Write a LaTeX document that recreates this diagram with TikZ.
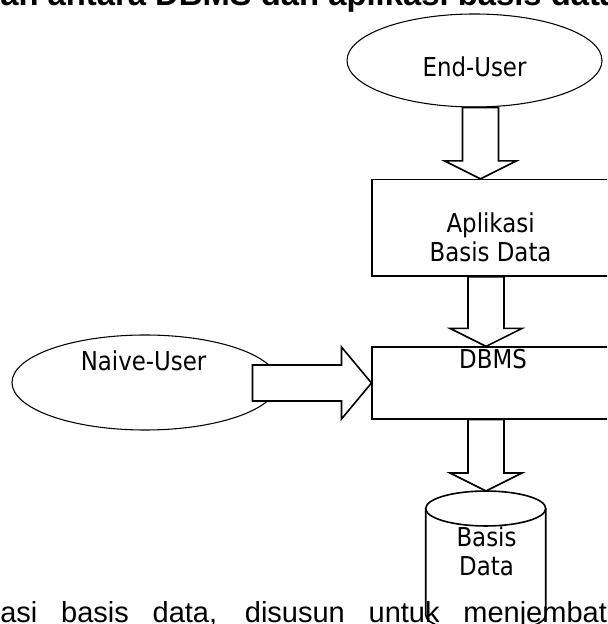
\documentclass[tikz,border=0pt]{standalone}
\usepackage{fontspec}
\setmainfont{DejaVu Sans}[FakeStretch=0.88]
\newfontfamily\arialfont{Liberation Sans}
\usetikzlibrary{shapes.geometric,calc}
\tikzset{
  user/.style       = {ellipse, draw, line width=0.8pt, inner sep=0pt},
  unit/.style       = {rectangle, draw, line width=1.2pt, inner sep=0pt},
  store/.style      = {draw, line width=1.2pt},
  blockarrow/.style = {draw, fill=white, line width=1.2pt, line join=miter},
  caption/.style    = {font=\fontsize{19.5}{21.75}\selectfont, align=center, inner sep=0pt},
  heading/.style    = {font=\arialfont\bfseries\fontsize{24.6}{28}\selectfont, anchor=base west, inner sep=0pt},
  bodytext/.style   = {font=\arialfont\fontsize{21.75}{26}\selectfont, anchor=base west, inner sep=0pt},
}
\newcommand{\arrowdown}[2]{%
  \filldraw[blockarrow] let \p1 = (#1), \p2 = (#2) in
    (\x1-13.5pt,\y1) -- (\x1-13.5pt,\y2+13.5pt) -- (\x1-27pt,\y2+13.5pt) -- (\x1,\y2)
    -- (\x1+27pt,\y2+13.5pt) -- (\x1+13.5pt,\y2+13.5pt) -- (\x1+13.5pt,\y1) -- cycle;}
\newcommand{\arrowright}[2]{%
  \filldraw[blockarrow] let \p1 = (#1), \p2 = (#2) in
    (\x1,\y2+13.5pt) -- (\x2-22.5pt,\y2+13.5pt) -- (\x2-22.5pt,\y2+27pt) -- (\x2,\y2)
    -- (\x2-22.5pt,\y2-27pt) -- (\x2-22.5pt,\y2-13.5pt) -- (\x1,\y2-13.5pt) -- cycle;}

\begin{document}
\begin{tikzpicture}[x=0.75pt, y=0.75pt]
  \clip (0,0) rectangle (607,624);
  \fill[white] (0,0) rectangle (607,624);

  % text of the page, cut by the frame
  \node[heading]  (title) at (0,618) {an antara DBMS dan aplikasi basis data};
  \node[bodytext] (body)  at (0,2)   {\makebox[455pt][s]{asi basis data, disusun untuk menjembat}};

  \node[user, minimum width=191.25pt, minimum height=69.75pt,
        label={[caption, yshift=-4.9pt]center:End-User}]                 (enduser) at (474.5,563.5) {};
  \node[user, minimum width=199.5pt,  minimum height=71.25pt,
        label={[caption, xshift=-1.1pt, yshift=16.5pt]center:Naive-User}] (naive)   at (145,241.5)   {};
  \node[unit, minimum width=177.5pt,  minimum height=72.2pt,
        label={[caption, yshift=-7.3pt]center:Aplikasi\\Basis Data}]      (app)     at (490.6,396.2) {};
  \node[unit, minimum width=177.5pt,  minimum height=53.7pt,
        label={[caption, xshift=1.8pt, yshift=17.6pt]center:DBMS}]        (dbms)    at (490.6,241)   {};

  % database
  \coordinate (dbtop) at (486,133);
  \draw[store] (425.7,115.5) -- (425.7,9) arc[start angle=180, end angle=360, x radius=45pt, y radius=13.1pt] -- (545.7,115.5);
  \draw[store] (485.7,115.5) ellipse [x radius=45pt, y radius=13.1pt];
  \node[caption] (db) at (486.5,73) {Basis\\Data};

  \arrowdown{480.5,0 |- enduser.south}{480.5,0 |- app.north}
  \arrowdown{486,0 |- app.south}{486,0 |- dbms.north}
  \arrowdown{486,0 |- dbms.south}{dbtop}
  \arrowright{[xshift=-19.5pt]naive.east}{dbms.west}
\end{tikzpicture}
\end{document}
